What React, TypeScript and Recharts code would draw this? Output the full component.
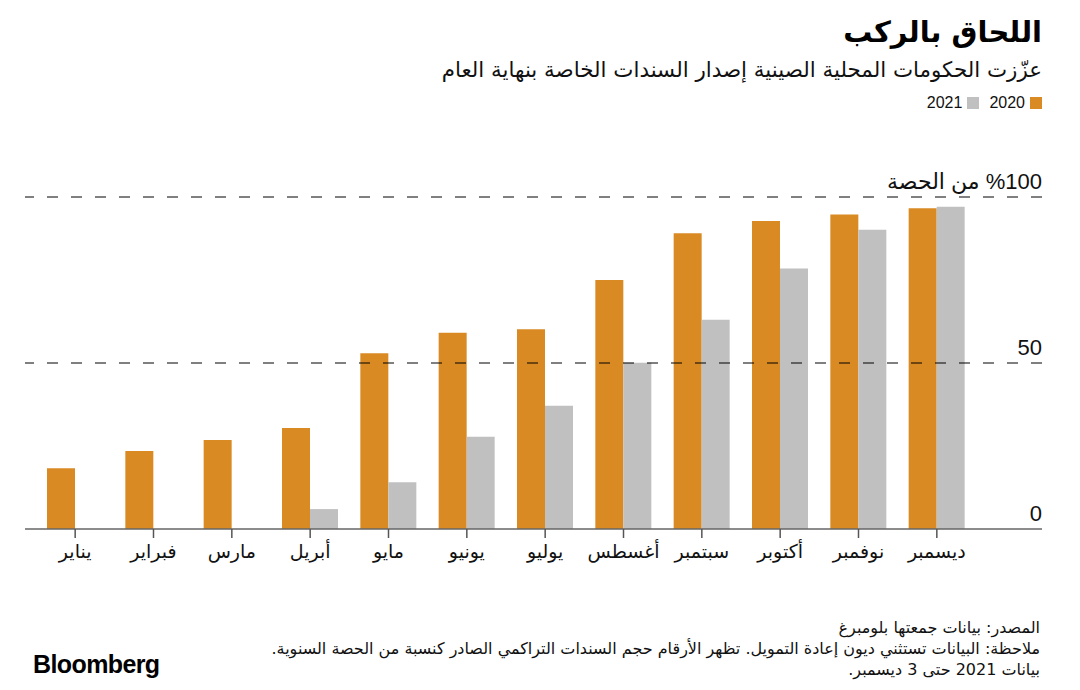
import React from "react";
import { BarChart, Bar, XAxis, YAxis, ReferenceLine } from "recharts";

const months = [
  "يناير",
  "فبراير",
  "مارس",
  "أبريل",
  "مايو",
  "يونيو",
  "يوليو",
  "أغسطس",
  "سبتمبر",
  "أكتوبر",
  "نوفمبر",
  "ديسمبر",
];
// cumulative special bond issuance, % of annual quota
const share2020 = [18.3, 23.5, 26.8, 30.4, 52.9, 59.1, 60.2, 75.0, 89.1, 92.8, 94.7, 96.6];
const share2021 = [0, 0, 0, 6.0, 14.1, 27.8, 37.1, 50.1, 63.0, 78.5, 90.1, 97.1];

const seriesNames = ["2020", "2021"];
const yTicks = [0, 50, 100];
const yTickLabels = ["0", "50", "\u202B%100 من الحصة\u202C"];
const gridValues = [50, 100];

const title = "اللحاق بالركب";
const subtitle = "عزّزت الحكومات المحلية الصينية إصدار السندات الخاصة بنهاية العام";
const footerLines = [
  "المصدر: بيانات جمعتها بلومبرغ",
  "ملاحظة: البيانات تستثني ديون إعادة التمويل. تظهر الأرقام حجم السندات التراكمي الصادر كنسبة من الحصة السنوية.",
  "بيانات 2021 حتى 3 ديسمبر.",
];

const ORANGE = "#d98a23";
const GRAY = "#c0c0c0";
const colors = [ORANGE, GRAY];

const data = months.map((m, i) => ({
  month: m,
  y2020: share2020[i],
  y2021: share2021[i],
}));

const arabicFont = '"DejaVu Sans", sans-serif';
const latinFont = '"Liberation Sans", Arial, sans-serif';

const YTick = (props: any) => {
  const { x, y, payload } = props;
  const idx = yTicks.indexOf(payload.value);
  return (
    <text
      x={x}
      y={y - 8}
      textAnchor="end"
      fill="#111"
      fontSize={22}
      fontFamily={latinFont + ", " + arabicFont}
    >
      {yTickLabels[idx]}
    </text>
  );
};

export default function App() {
  return (
    <div
      style={{
        position: "absolute",
        left: 0,
        top: 0,
        width: 1080,
        height: 690,
        background: "#fff",
        overflow: "hidden",
      }}
    >
      <div
        dir="rtl"
        style={{
          position: "absolute",
          right: 38,
          top: 15,
          fontFamily: arabicFont,
          fontWeight: "bold",
          fontSize: 29,
          color: "#000",
          whiteSpace: "nowrap",
        }}
      >
        {title}
      </div>
      <div
        dir="rtl"
        style={{
          position: "absolute",
          right: 38,
          top: 57,
          fontFamily: arabicFont,
          fontSize: 21.4,
          color: "#111",
          whiteSpace: "nowrap",
        }}
      >
        {subtitle}
      </div>
      <div
        dir="rtl"
        style={{
          position: "absolute",
          right: 38,
          top: 94,
          display: "flex",
          alignItems: "center",
          fontFamily: latinFont,
          fontSize: 16,
          color: "#111",
        }}
      >
        {seriesNames.map((name, i) => (
          <div key={name} style={{ display: "flex", alignItems: "center", marginLeft: 10 }}>
            <span
              style={{
                display: "inline-block",
                width: 12,
                height: 12,
                background: colors[i],
                marginLeft: 5,
              }}
            />
            <span>{name}</span>
          </div>
        ))}
      </div>

      <div style={{ position: "absolute", left: 0, top: 0 }}>
        <BarChart
          width={1080}
          height={690}
          data={data}
          margin={{ top: 197, right: 38, bottom: 121, left: 25 }}
          barSize={28}
          barGap={0}
        >
          <XAxis
            dataKey="month"
            height={40}
            padding={{ left: 11, right: 66 }}
            axisLine={{ stroke: "#666", strokeWidth: 1.5 }}
            tickLine={{ stroke: "#555", strokeWidth: 1.5 }}
            tickSize={9}
            tickMargin={7}
            tick={{ fill: "#111", fontSize: 19, fontFamily: arabicFont }}
            interval={0}
          />
          <YAxis
            orientation="right"
            mirror
            domain={[0, 100]}
            ticks={yTicks}
            axisLine={false}
            tickLine={false}
            tickSize={0}
            tickMargin={0}
            tick={<YTick />}
          />
          {gridValues.map((v) => (
            <ReferenceLine key={v} y={v} stroke="#000" strokeWidth={1} strokeDasharray="11 13" />
          ))}
          <Bar dataKey="y2020" name={seriesNames[0]} fill={ORANGE} isAnimationActive={false} />
          <Bar dataKey="y2021" name={seriesNames[1]} fill={GRAY} isAnimationActive={false} />
        </BarChart>
      </div>

      <div
        dir="rtl"
        style={{
          position: "absolute",
          right: 40,
          top: 617,
          fontFamily: arabicFont,
          fontSize: 16,
          lineHeight: "21px",
          color: "#111",
          whiteSpace: "nowrap",
        }}
      >
        {footerLines.map((l) => (
          <div key={l}>{l}</div>
        ))}
      </div>
      <div
        style={{
          position: "absolute",
          left: 33,
          top: 650,
          fontFamily: latinFont,
          fontWeight: "bold",
          fontSize: 25,
          letterSpacing: -0.6,
          color: "#000",
        }}
      >
        Bloomberg
      </div>
    </div>
  );
}
